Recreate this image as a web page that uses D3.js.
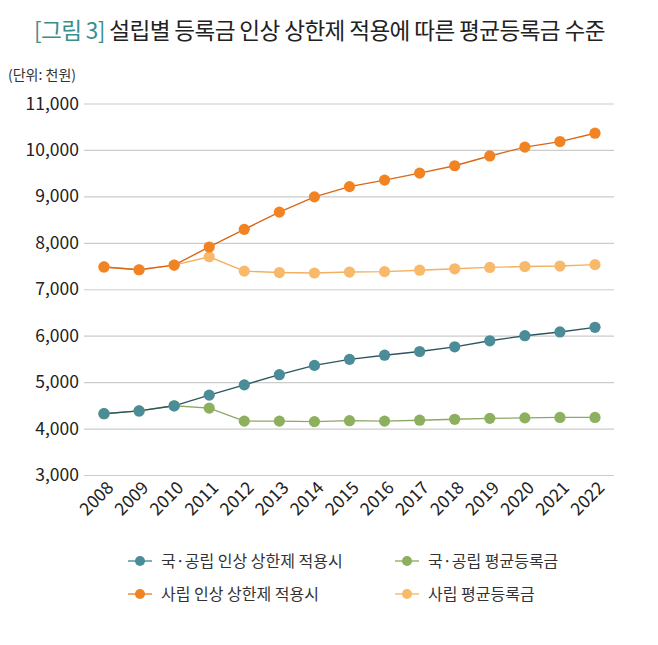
<!DOCTYPE html>
<html><head><meta charset="utf-8">
<script src="https://cdn.jsdelivr.net/npm/d3@7"></script>
<style>
body{margin:0;background:#fff;}
text{font-family:"Noto Sans CJK KR","Noto Sans",sans-serif;}
</style></head>
<body><svg id="c" width="658" height="645"></svg>
<script>
const years = [2008,2009,2010,2011,2012,2013,2014,2015,2016,2017,2018,2019,2020,2021,2022];
const publicCap = [4320,4380,4490,4720,4940,5160,5360,5490,5580,5660,5760,5890,6000,6080,6180];
const publicAvg = [4320,4380,4490,4440,4160,4160,4150,4170,4160,4180,4200,4220,4230,4240,4240];
const privateCap = [7480,7420,7520,7910,8290,8660,8990,9210,9350,9500,9660,9870,10060,10180,10360];
const privateAvg = [7480,7420,7520,7700,7390,7360,7350,7370,7380,7410,7440,7470,7490,7500,7530];
const yTicks = [3000,4000,5000,6000,7000,8000,9000,10000,11000];
const seriesNames = ["국·공립 인상 상한제 적용시","국·공립 평균등록금","사립 인상 상한제 적용시","사립 평균등록금"];

const series = [
  {name:seriesNames[0], values:publicCap, dot:"#4a8c98", line:"#2e5560"},
  {name:seriesNames[1], values:publicAvg, dot:"#8db05e", line:"#8ca866"},
  {name:seriesNames[2], values:privateCap, dot:"#f28323", line:"#d9681a"},
  {name:seriesNames[3], values:privateAvg, dot:"#f8b96b", line:"#f3b060"}
];
const drawOrder = [1,3,0,2];

const svg = d3.select("#c");
const x = d3.scalePoint().domain(years).range([104,595]);
const y = d3.scaleLinear().domain([3000,11000]).range([475,103.5]);

svg.append("text").attr("x",34).attr("y",39).attr("font-size",22.6)
  .attr("fill","#222").attr("letter-spacing",-0.6)
  .call(t=>{t.append("tspan").attr("fill","#3a8e8c").text("[그림 3]");
            t.append("tspan").text(" 설립별 등록금 인상 상한제 적용에 따른 평균등록금 수준");});
svg.append("text").attr("x",8).attr("y",80).attr("font-size",14).attr("fill","#333").text("(단위: 천원)");

const numFont = "Roboto,'Liberation Sans',Arial,sans-serif";
const yAxis = d3.axisLeft(y).tickValues(yTicks).tickSize(-530).tickFormat(d3.format(","));
const gy = svg.append("g").attr("transform","translate(84,0)").call(yAxis);
gy.select(".domain").remove();
gy.selectAll(".tick line").attr("stroke","#cccccc").attr("stroke-width",1.2);
gy.selectAll(".tick text").attr("x",-5).attr("font-size",17.5).attr("fill","#222")
  .attr("font-family",numFont);

const xAxis = d3.axisBottom(x).tickSize(0);
const gx = svg.append("g").attr("transform","translate(0,475)").call(xAxis);
gx.select(".domain").remove();
gx.selectAll(".tick text").attr("font-size",17.5).attr("fill","#222")
  .attr("font-family",numFont)
  .attr("text-anchor","end").attr("dy",0).attr("y",0)
  .attr("transform","translate(10,14) rotate(-45)");

const line = d3.line().x((d,i)=>x(years[i])).y(d=>y(d));
drawOrder.forEach(k=>{
  const s = series[k];
  svg.append("path").datum(s.values).attr("d",line).attr("fill","none")
    .attr("stroke",s.line).attr("stroke-width",1.4);
});
drawOrder.forEach(k=>{
  const s = series[k];
  svg.append("g").selectAll("circle").data(s.values).join("circle")
    .attr("cx",(d,i)=>x(years[i])).attr("cy",d=>y(d)).attr("r",5.6).attr("fill",s.dot);
});

const legPos = [[140,561],[407,561],[140,594],[407,594]];
series.forEach((s,i)=>{
  const [lx,ly] = legPos[i];
  const g = svg.append("g");
  g.append("line").attr("x1",lx-12).attr("x2",lx+12).attr("y1",ly).attr("y2",ly).attr("stroke",s.dot).attr("stroke-width",1.4);
  g.append("circle").attr("cx",lx).attr("cy",ly).attr("r",5).attr("fill",s.dot);
  g.append("text").attr("x",lx+21).attr("y",ly+5.5).attr("font-size",16).attr("fill","#333").text(s.name);
});
</script></body></html>
